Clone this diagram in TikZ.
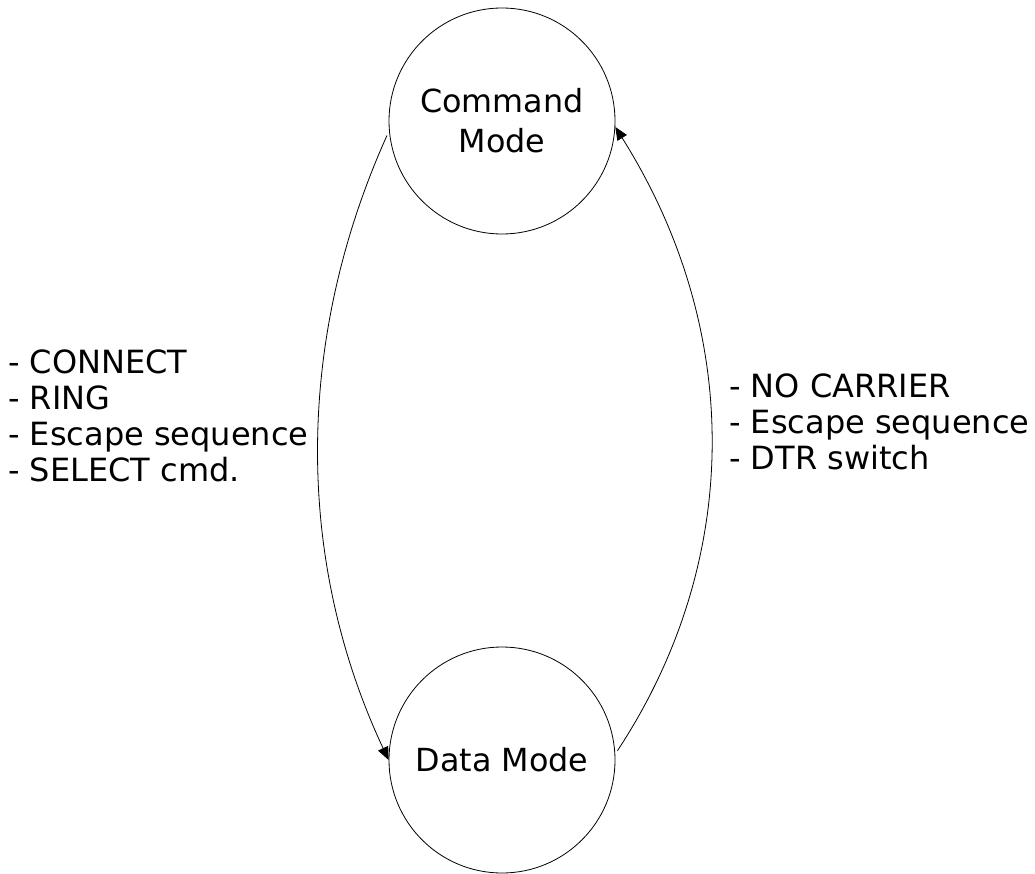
\documentclass[tikz,border=0pt]{standalone}
\usepackage{fontspec}
\setmainfont{DejaVu Sans}
\usetikzlibrary{arrows.meta}

\begin{document}
\begin{tikzpicture}[x=1pt, y=-1pt, state/.style = {draw, circle, minimum size=226pt, inner sep=0pt, line width=0.8pt, align=center, font=\fontsize{31.8}{40}\selectfont},
  lbl/.style = {align=left, anchor=west, inner sep=0pt, font=\fontsize{32}{36}\selectfont},
  trans/.style = {line width=0.8pt, -{Triangle[length=13pt, width=11pt]}}]
      \useasboundingbox (0,0) rectangle (1035,874);
      \node[state] (cmd) at (502,121) {Command\\Mode};
      \node[state] (data) at (502,760) {Data Mode};
      \node[lbl] (leftlbl) at (8,416) {- CONNECT\\- RING\\- Escape sequence\\- SELECT cmd.};
      \node[lbl] (rightlbl) at (729,422) {- NO CARRIER\\- Escape sequence\\- DTR switch};
      \draw[trans, shorten <=5pt] (cmd.185) .. controls (295,340) and (295,560) .. (data.180);
      \draw[trans, shorten <=4pt] (data.3) .. controls (743,560) and (743,330) .. (cmd.357);
    \end{tikzpicture}
\end{document}
